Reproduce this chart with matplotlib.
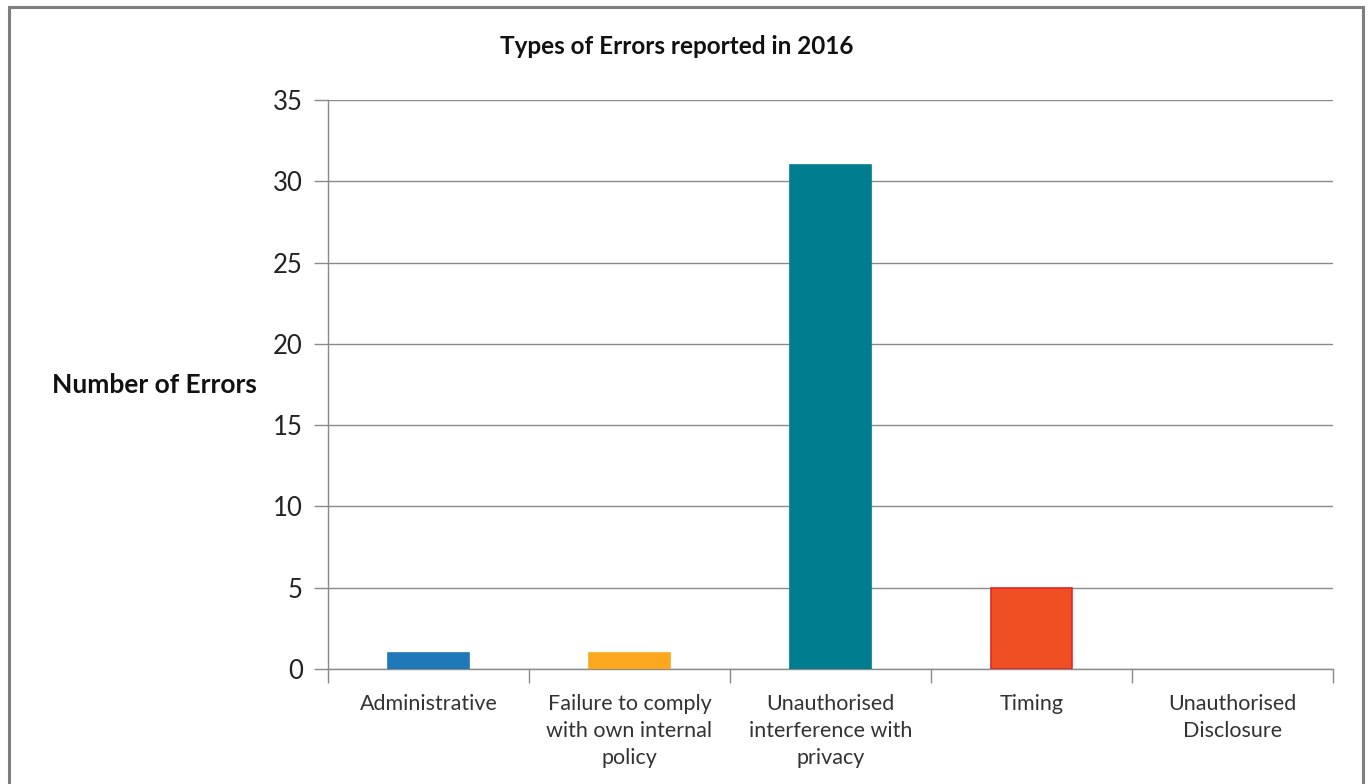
import matplotlib
matplotlib.use("Agg")
import matplotlib.pyplot as plt
from matplotlib.patches import Rectangle

categories = ["Administrative", "Failure to comply\nwith own internal\npolicy",
              "Unauthorised\ninterference with\nprivacy", "Timing", "Unauthorised\nDisclosure"]
values = [1, 1, 31, 5, 0]
colors = ["#1F78B8", "#FBA81E", "#007E8F", "#F04E23", "none"]
edges = ["#1F78B8", "#FBA81E", "#007E8F", "#E02828", "none"]
yticks = [0, 5, 10, 15, 20, 25, 30, 35]

plt.rcParams['font.family'] = ['Lato', 'DejaVu Sans']

fig = plt.figure(figsize=(13.69, 7.84), dpi=100)
ax = fig.add_axes([328/1369, 1-669/784, (1333-328)/1369, (669-100)/784])

x = list(range(len(categories)))
ax.bar(x, values, width=0.4, color=colors, edgecolor=edges, linewidth=1.2, zorder=3)

ax.set_xlim(-0.5, len(categories)-0.5)
ax.set_ylim(0, 35)
ax.set_yticks(yticks)
ax.set_yticklabels([str(v) for v in yticks], fontsize=18.5, color="#222222")
ax.yaxis.grid(True, color="#8a8a8a", linewidth=1.0, zorder=0)
ax.tick_params(axis='y', length=10, width=1.0, color="#8a8a8a", pad=8)

ax.set_xticks(x)
ax.set_xticklabels(categories, fontsize=15.5, color="#333333", linespacing=1.45, va='top')
ax.tick_params(axis='x', length=0, pad=18)
# category boundary ticks
ax.set_xticks([i - 0.5 for i in range(len(categories)+1)], minor=True)
ax.tick_params(axis='x', which='minor', length=10, width=1.0, color="#8a8a8a")

for s in ['top', 'right']:
    ax.spines[s].set_visible(False)
for s in ['left', 'bottom']:
    ax.spines[s].set_color("#8a8a8a")
    ax.spines[s].set_linewidth(1.0)

fig.text(677/1369, 1-47/784, "Types of Errors reported in 2016", ha='center', va='center',
         fontsize=17.5, fontweight='bold', color="#111111")
fig.text(154/1369, 1-385/784, "Number of Errors", ha='center', va='center',
         fontsize=19, fontweight='bold', color="#111111")

fig.patches.append(Rectangle((9/1369, -0.05), (1363-9)/1369, 1.05-7/784, transform=fig.transFigure,
                             fill=False, edgecolor="#7f7f7f", linewidth=2.2))

fig.savefig("out.png", dpi=100)
